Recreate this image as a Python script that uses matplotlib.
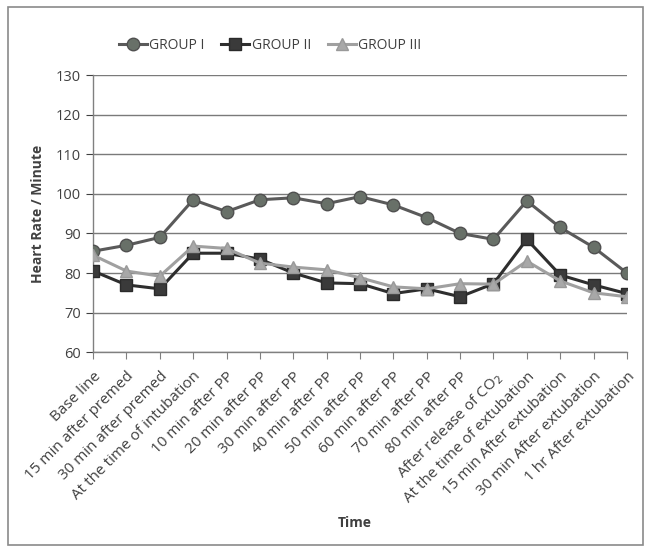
import matplotlib.pyplot as plt
import numpy as np

plt.rcParams['font.family'] = ['Open Sans', 'DejaVu Sans']

# time points of heart rate recording
time_points = [
    "Base line", "15 min after premed", "30 min after premed",
    "At the time of intubation", "10 min after PP", "20 min after PP",
    "30 min after PP", "40 min after PP", "50 min after PP",
    "60 min after PP", "70 min after PP", "80 min after PP",
    "After release of CO$_2$", "At the time of extubation",
    "15 min After extubation", "30 min After extubation",
    "1 hr After extubation",
]

# mean heart rate per group
group_1 = [85.5, 87, 89, 98.5, 95.5, 98.5, 99, 97.5, 99.3, 97.2, 94, 90,
           88.5, 98.2, 91.5, 86.5, 80]
group_2 = [80.5, 77, 76, 85, 85, 83.5, 80, 77.5, 77.3, 74.8, 76, 74,
           77.3, 88.5, 79.5, 77, 74.8]
group_3 = [84.5, 80.5, 79.2, 86.8, 86.2, 82.5, 81.5, 80.8, 78.8, 76.5, 76,
           77.3, 77.2, 83, 78, 75, 74]

text_col = "#404040"

fig = plt.figure(figsize=(6.51, 5.52), dpi=100)
ax = fig.add_axes([0.143, 0.362, 0.820, 0.502])

x = np.arange(len(time_points))
ax.plot(x, group_1, color="#5a5a5a", lw=2.2, marker="o", ms=9,
        mfc="#687068", mec="#505050", label="GROUP I", zorder=3)
ax.plot(x, group_2, color="#2e2e2e", lw=2.2, marker="s", ms=8,
        mfc="#3a3a3a", mec="#2a2a2a", label="GROUP II", zorder=3)
ax.plot(x, group_3, color="#a0a0a0", lw=2.2, marker="^", ms=9,
        mfc="#a8a8a8", mec="#999999", label="GROUP III", zorder=4)

ax.set_ylim(60, 130)
ax.set_yticks(range(60, 131, 10))
ax.set_xlim(0, len(time_points) - 1)
ax.set_xticks(x)
ax.set_xticklabels(time_points, rotation=45, ha="right",
                   rotation_mode="anchor", fontsize=11, color=text_col)
ax.tick_params(axis="y", labelsize=10.5, colors=text_col, length=5,
               direction="out")
ax.tick_params(axis="x", length=5, direction="out", color="#808080", pad=7)
ax.grid(axis="y", color="#7a7a7a", lw=1.0)
ax.set_axisbelow(True)
for s in ["top", "right"]:
    ax.spines[s].set_visible(False)
for s in ["left", "bottom"]:
    ax.spines[s].set_color("#808080")
    ax.spines[s].set_linewidth(1.0)

ax.set_ylabel("Heart Rate / Minute", fontsize=10, fontweight="bold",
              color=text_col, labelpad=8)
fig.text(0.545, 0.053, "Time", fontsize=10, fontweight="bold",
         color=text_col, ha="center", va="center")

fig.legend(loc="center", bbox_to_anchor=(0.415, 0.918), ncol=3,
           frameon=False, fontsize=10, handlelength=2.0, handletextpad=0.2,
           columnspacing=1.2, labelcolor=text_col)

# chart border
fig.patches.append(plt.Rectangle((0.012, 0.012), 0.976, 0.975,
                                 transform=fig.transFigure, fill=False,
                                 ec="#8a8a8a", lw=1.2))

fig.savefig("out.png", dpi=100)
